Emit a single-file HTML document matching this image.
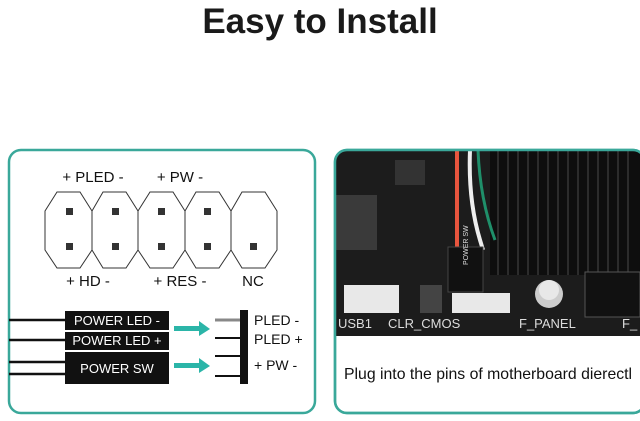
<!DOCTYPE html>
<html><head><meta charset="utf-8"><style>
html,body{margin:0;padding:0;background:#fff;}
svg{display:block;}
text{font-family:"Liberation Sans",sans-serif;}
</style></head><body>
<svg width="640" height="421" viewBox="0 0 640 421" xmlns="http://www.w3.org/2000/svg">
<rect width="640" height="421" fill="#fff"/>
<text x="320" y="33" text-anchor="middle" font-size="35" font-weight="bold" fill="#1a1a1a">Easy to Install</text>

<rect x="9" y="150" width="306" height="263" rx="12" fill="#fff" stroke="#3aa89a" stroke-width="2.5"/>
<g fill="#fff" stroke="#333" stroke-width="1">
<polygon points="57,192 80,192 92,211 92,250 80,268 57,268 45,250 45,211"/>
<polygon points="103,192 126,192 138,211 138,250 126,268 103,268 92,250 92,211"/>
<polygon points="150,192 173,192 185,211 185,250 173,268 150,268 138,250 138,211"/>
<polygon points="196,192 219,192 231,211 231,250 219,268 196,268 185,250 185,211"/>
<polygon points="242,192 265,192 277,211 277,250 265,268 242,268 231,250 231,211"/>
</g>
<g fill="#333">
<rect x="66" y="208" width="7" height="7"/><rect x="66" y="243" width="7" height="7"/>
<rect x="112" y="208" width="7" height="7"/><rect x="112" y="243" width="7" height="7"/>
<rect x="158" y="208" width="7" height="7"/><rect x="158" y="243" width="7" height="7"/>
<rect x="204" y="208" width="7" height="7"/><rect x="204" y="243" width="7" height="7"/>
<rect x="250" y="243" width="7" height="7"/>
</g>
<g font-size="15" fill="#111" text-anchor="middle">
<text x="93" y="182">+ PLED -</text>
<text x="180" y="182">+ PW -</text>
<text x="88" y="286">+ HD -</text>
<text x="180" y="286">+ RES -</text>
<text x="253" y="286">NC</text>
</g>
<g stroke="#111" stroke-width="2.5">
<line x1="9" y1="320" x2="66" y2="320"/>
<line x1="9" y1="340" x2="66" y2="340"/>
<line x1="9" y1="362" x2="66" y2="362"/>
<line x1="9" y1="374" x2="66" y2="374"/>
</g>
<rect x="65" y="311" width="104" height="19" fill="#111"/>
<rect x="65" y="332" width="104" height="18" fill="#111"/>
<rect x="65" y="352" width="104" height="32" fill="#111"/>
<g fill="#fff" font-size="13" text-anchor="middle">
<text x="117" y="325">POWER  LED -</text>
<text x="117" y="345">POWER  LED +</text>
<text x="117" y="373">POWER  SW</text>
</g>
<g fill="#2bb5a8">
<polygon points="174,326 199,326 199,321 210,329 199,336 199,331 174,331"/>
<polygon points="174,363 199,363 199,358 210,366 199,373 199,368 174,368"/>
</g>
<rect x="240" y="310" width="8" height="74" fill="#111"/>
<line x1="215" y1="320" x2="240" y2="320" stroke="#888" stroke-width="3"/>
<g stroke="#111" stroke-width="2">
<line x1="215" y1="338" x2="240" y2="338"/>
<line x1="215" y1="356" x2="240" y2="356"/>
<line x1="215" y1="376" x2="240" y2="376"/>
</g>
<g font-size="14" fill="#111">
<text x="254" y="325">PLED  -</text>
<text x="254" y="344">PLED +</text>
<text x="254" y="370">+ PW -</text>
</g>

<defs><clipPath id="c"><rect x="335" y="150" width="310" height="263" rx="12"/></clipPath></defs>
<rect x="335" y="150" width="310" height="263" rx="12" fill="#fff" stroke="#3aa89a" stroke-width="2.5"/>
<g clip-path="url(#c)">
<rect x="335" y="150" width="310" height="186" fill="#1c1c1c"/>
<rect x="490" y="150" width="155" height="125" fill="#0e0e0e"/>
<g stroke="#2c2c2c" stroke-width="2">
<line x1="498" y1="150" x2="498" y2="275"/><line x1="508" y1="150" x2="508" y2="275"/>
<line x1="518" y1="150" x2="518" y2="275"/><line x1="528" y1="150" x2="528" y2="275"/>
<line x1="538" y1="150" x2="538" y2="275"/><line x1="548" y1="150" x2="548" y2="275"/>
<line x1="558" y1="150" x2="558" y2="275"/><line x1="568" y1="150" x2="568" y2="275"/>
<line x1="578" y1="150" x2="578" y2="275"/><line x1="588" y1="150" x2="588" y2="275"/>
<line x1="598" y1="150" x2="598" y2="275"/><line x1="608" y1="150" x2="608" y2="275"/>
<line x1="618" y1="150" x2="618" y2="275"/><line x1="628" y1="150" x2="628" y2="275"/>
</g>
<rect x="335" y="195" width="42" height="55" fill="#3a3a3a"/>
<rect x="395" y="160" width="30" height="25" fill="#333"/>
<rect x="585" y="272" width="55" height="45" fill="#111" stroke="#555"/>
<path d="M457 150 L457 250" stroke="#e8553e" stroke-width="4" fill="none"/>
<path d="M470 150 Q468 200 480 240 L483 250" stroke="#eee" stroke-width="4" fill="none"/>
<path d="M478 150 Q480 200 495 240" stroke="#1f8f6a" stroke-width="3" fill="none"/>
<rect x="448" y="247" width="35" height="45" fill="#111" stroke="#444"/>
<text x="468" y="265" font-size="7" fill="#ddd" transform="rotate(-90 468 265)">POWER SW</text>
<g fill="#e8e8e8">
<rect x="344" y="285" width="55" height="28"/>
<rect x="452" y="293" width="58" height="20"/>
</g>
<rect x="420" y="285" width="22" height="28" fill="#444"/>
<circle cx="549" cy="294" r="14" fill="#ccc"/>
<circle cx="549" cy="290" r="10" fill="#e8e8e8"/>
<g font-size="13" fill="#ddd">
<text x="338" y="328">USB1</text>
<text x="388" y="328">CLR_CMOS</text>
<text x="519" y="328">F_PANEL</text>
<text x="622" y="328">F_</text>
</g>
<text x="344" y="379" font-size="15.8" fill="#111">Plug into the pins of motherboard dierectl</text>
</g>
<rect x="335" y="150" width="310" height="263" rx="12" fill="none" stroke="#3aa89a" stroke-width="2.5"/>
</svg>
</body></html>
